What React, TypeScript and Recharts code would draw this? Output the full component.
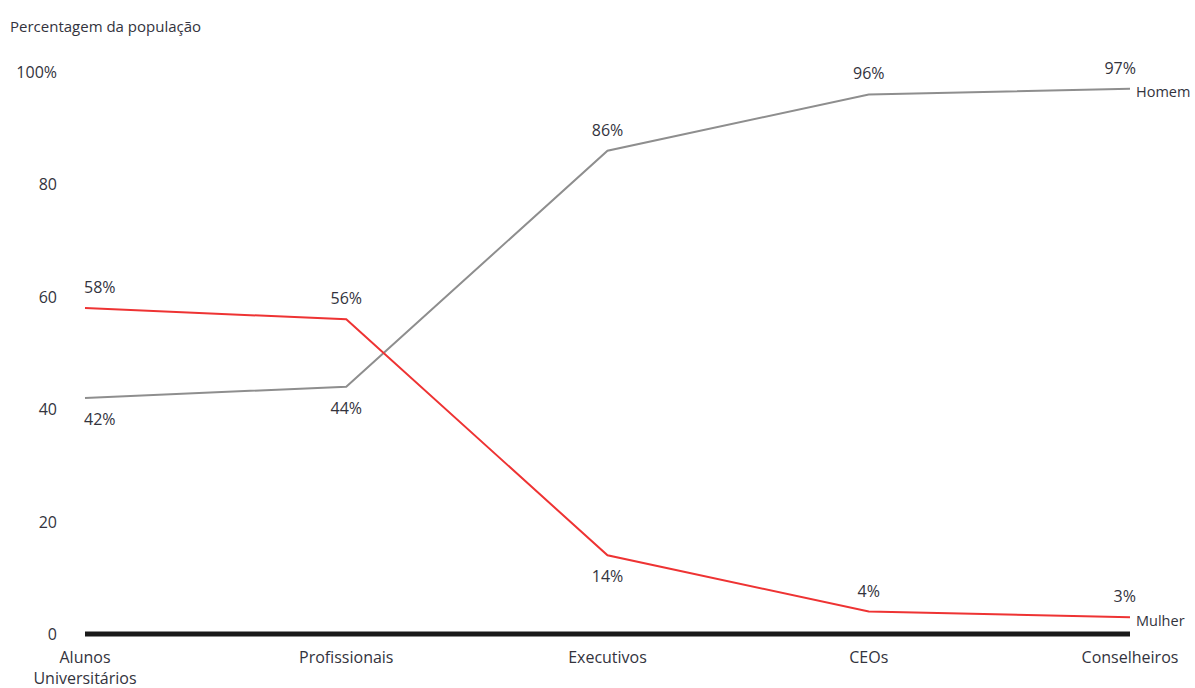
import React from "react";
import { LineChart, Line, XAxis, YAxis, LabelList } from "recharts";

const categories = ["Alunos\nUniversitários", "Profissionais", "Executivos", "CEOs", "Conselheiros"];
const homem = [42, 44, 86, 96, 97];
const mulher = [58, 56, 14, 4, 3];
const yTicks = [0, 20, 40, 60, 80, 100];

const data = categories.map((c, i) => ({ category: c, homem: homem[i], mulher: mulher[i] }));

const FONT = "'Open Sans', Lato, sans-serif";
const TEXT = "#33333d";
const FS = 16;

// label placement per point: -1 above, 1 below
const homemSide = [1, 1, -1, -1, -1];
const mulherSide = [-1, -1, 1, -1, -1];

function makeLabel(side: number[], name: string) {
  return (props: any) => {
    const { x, y, value, index } = props;
    const n = categories.length;
    const anchor = index === 0 ? "start" : index === n - 1 ? "end" : "middle";
    const dx = index === 0 ? -1 : index === n - 1 ? 6 : 0;
    return (
      <g>
        <text
          x={x + dx}
          y={y + side[index] * 21}
          textAnchor={anchor}
          dominantBaseline="central"
          fontFamily={FONT}
          fontSize={FS}
          fill={TEXT}
        >
          {value}%
        </text>
        {index === n - 1 && (
          <text x={x + 6} y={y + 3} textAnchor="start" dominantBaseline="central" fontFamily={FONT} fontSize={14.5} fill={TEXT}>
            {name}
          </text>
        )}
      </g>
    );
  };
}

function XTick(props: any) {
  const { x, y, payload } = props;
  const lines = String(payload.value).split("\n");
  return (
    <text x={x} y={y + 7} textAnchor="middle" fontFamily={FONT} fontSize={FS} fill={TEXT}>
      {lines.map((l, i) => (
        <tspan key={i} x={x} dy={i === 0 ? "0.9em" : "1.3em"}>
          {l}
        </tspan>
      ))}
    </text>
  );
}

function YTick(props: any) {
  const { x, y, payload } = props;
  return (
    <text x={x - 20} y={y} textAnchor="end" dominantBaseline="central" fontFamily={FONT} fontSize={FS} fill={TEXT}>
      {payload.value === 100 ? "100%" : payload.value}
    </text>
  );
}

export default function App() {
  return (
    <div style={{ position: "absolute", left: 0, top: 0, width: 1195, height: 688, background: "#fff" }}>
      <div style={{ position: "absolute", left: 10, top: 16, fontFamily: FONT, fontSize: 15, color: TEXT }}>
        Percentagem da população
      </div>
      <LineChart width={1195} height={688} data={data} margin={{ top: 72, right: 65, left: 57, bottom: 4 }}>
        <XAxis
          dataKey="category"
          interval={0}
          axisLine={{ stroke: "#1a1a1a", strokeWidth: 5 }}
          tickLine={false}
          tick={<XTick />}
          tickMargin={2}
          height={50}
        />
        <YAxis
          domain={[0, 100]}
          ticks={yTicks}
          axisLine={false}
          tickLine={false}
          tick={<YTick />}
          width={28}
        />
        <Line
          type="linear"
          dataKey="homem"
          stroke="#8e8e8e"
          strokeWidth={2}
          dot={false}
          isAnimationActive={false}
        >
          <LabelList dataKey="homem" content={makeLabel(homemSide, "Homem")} />
        </Line>
        <Line
          type="linear"
          dataKey="mulher"
          stroke="#ee3333"
          strokeWidth={2}
          dot={false}
          isAnimationActive={false}
        >
          <LabelList dataKey="mulher" content={makeLabel(mulherSide, "Mulher")} />
        </Line>
      </LineChart>
    </div>
  );
}
